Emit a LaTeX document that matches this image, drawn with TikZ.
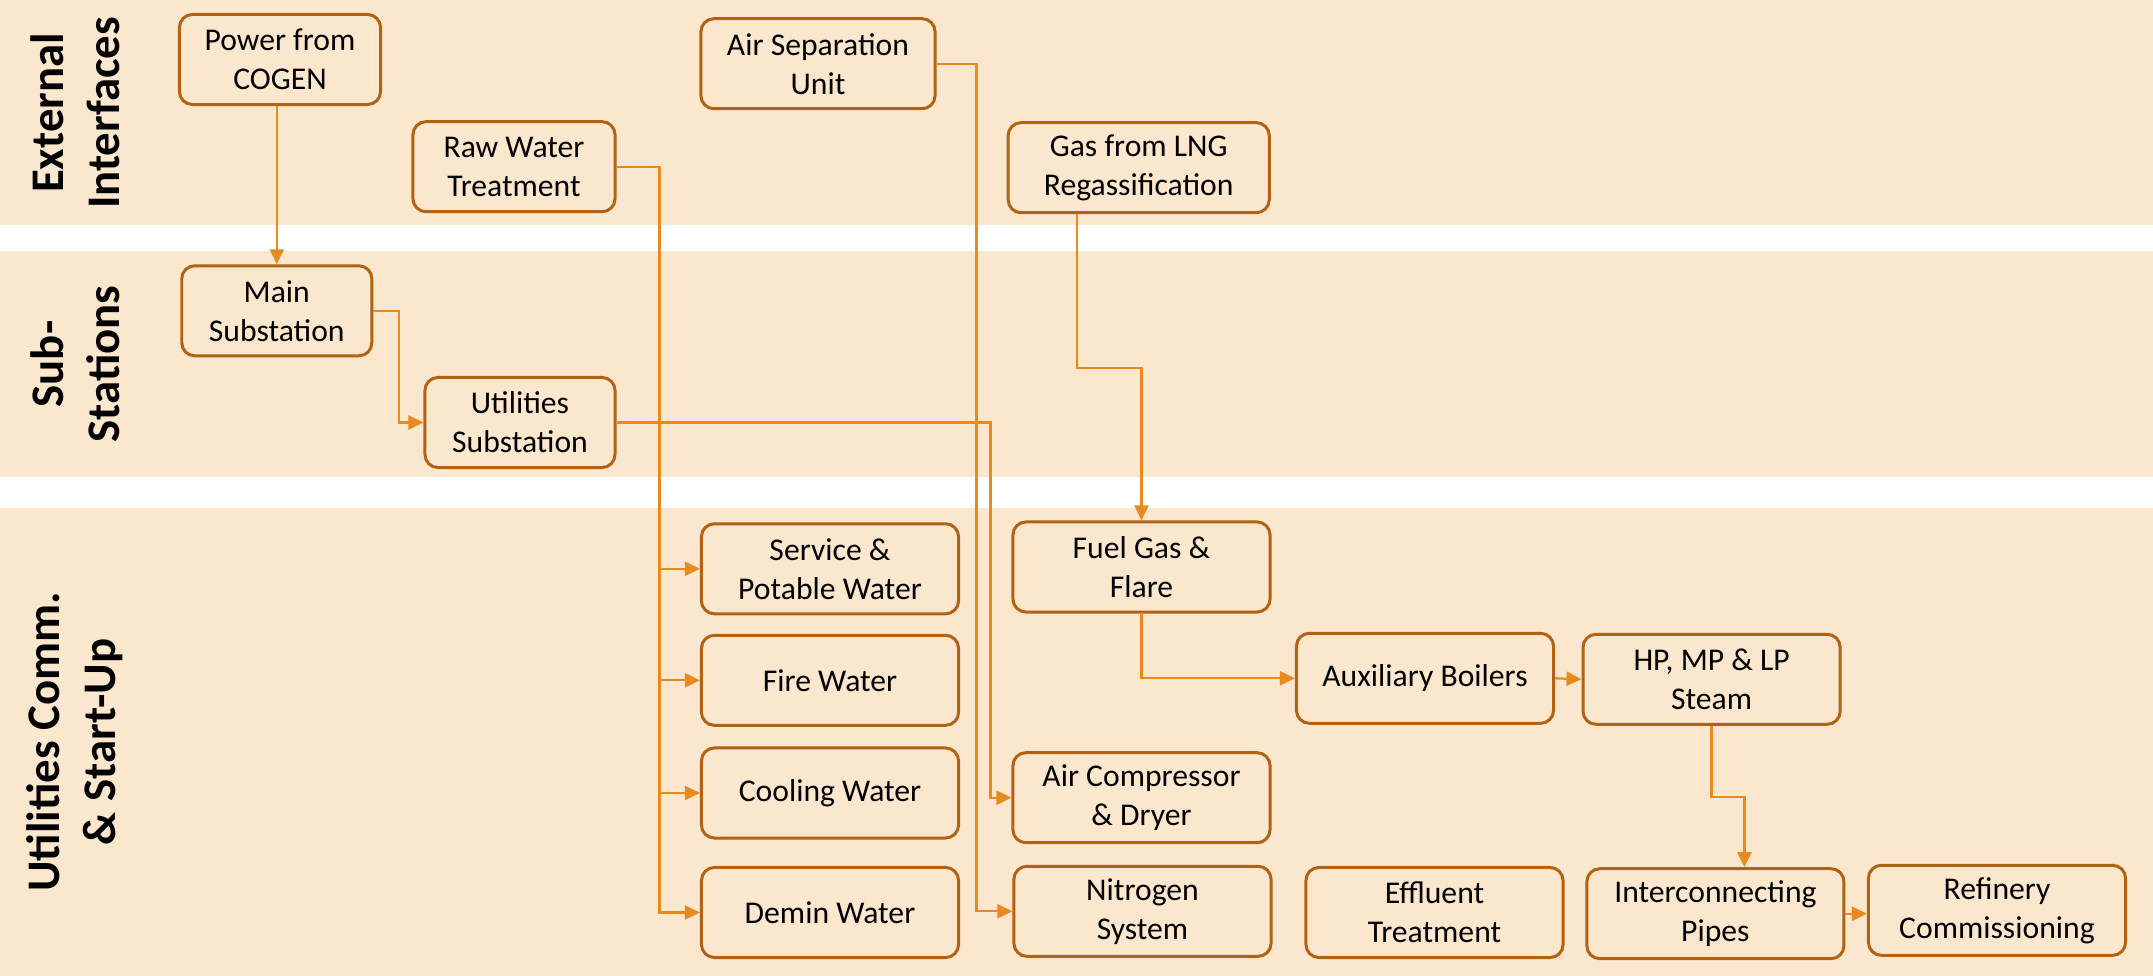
\documentclass[tikz,border=0pt]{standalone}
\usepackage{fontspec}
\setmainfont{Carlito}
\usepackage{xcolor}
\usepackage{tikz}
\usetikzlibrary{arrows.meta, positioning}

\definecolor{bandfill}{RGB}{251,230,206}
\definecolor{boxline}{RGB}{178,98,18}
\definecolor{flowline}{RGB}{233,138,32}

\begin{document}
\begin{tikzpicture}[
      x=0.01cm, y=-0.01cm,
      mybox/.style={
         rectangle,
         rounded corners=0.13cm,
         draw=boxline,
         line width=0.85pt,
         fill=bandfill,
         align=center,
         inner sep=1pt,
         minimum width=2.57cm,
         minimum height=0.9cm,
         font=\fontsize{9}{11.1}\selectfont},
      myline/.style={draw=flowline, line width=0.65pt},
      myarrow/.style={myline, -{Triangle[length=0.15cm, width=0.14cm]}},
      rowlabel/.style={rotate=90, align=center,
         font=\fontsize{13.3}{16}\selectfont\bfseries}
      ]
      \useasboundingbox (0,0) rectangle (2153,976);

      % bands
      \fill[bandfill] (0,0) rectangle (2153,225);
      \fill[bandfill] (0,251) rectangle (2153,477);
      \fill[bandfill] (0,508) rectangle (2153,976);

      \node[rowlabel] at (75, 113) (ext) {External\\Interfaces};
      \node[rowlabel] at (75, 364) (sub) {Sub-\\Stations};
      \node[rowlabel] at (75, 742) (utl) {Utilities Comm.\\\& Start-Up};

      \node[mybox, minimum width=2.01cm]  at (280, 59.5) (pow) {Power from\\COGEN};
      \node[mybox, minimum width=2.02cm]  at (514, 166.7) (raw) {Raw Water\\Treatment};
      \node[mybox, minimum width=2.34cm]  at (818, 63.7) (asu) {Air Separation\\Unit};
      \node[mybox, minimum width=2.61cm]  at (1138.7, 167.7) (lng) {Gas from LNG\\Regassification};
      \node[mybox, minimum width=1.90cm]  at (276.8, 310.8) (main) {Main\\Substation};
      \node[mybox, minimum width=1.90cm]  at (520, 422.5) (util) {Utilities\\Substation};
      \node[mybox]  at (830, 568.8) (serv) {Service \&\\Potable Water};
      \node[mybox]  at (830, 680.3) (fire) {Fire Water};
      \node[mybox]  at (830, 793) (cool) {Cooling Water};
      \node[mybox]  at (830, 912.5) (demin) {Demin Water};
      \node[mybox]  at (1141.5, 567) (fuel) {Fuel Gas \&\\Flare};
      \node[mybox]  at (1141.5, 797.7) (comp) {Air Compressor\\\& Dryer};
      \node[mybox]  at (1142.5, 911.3) (nitro) {Nitrogen\\System};
      \node[mybox]  at (1425, 678.3) (aux) {Auxiliary Boilers};
      \node[mybox]  at (1711.6, 679.3) (steam) {HP, MP \& LP\\Steam};
      \node[mybox]  at (1434.5, 912.5) (eff) {Effluent\\Treatment};
      \node[mybox]  at (1715.4, 913.7) (pipes) {Interconnecting\\Pipes};
      \node[mybox]  at (1997, 910.3) (ref) {Refinery\\Commissioning};

      % feeds
      \draw[myarrow] (main.north |- pow.south) -- (main.north);
      \draw[myarrow] (main.east) -- ++(26,0) |- (util.west);
      \draw[myarrow] (raw.east) -- ++(43,0) coordinate (rw) |- (demin.west);
      \foreach \n in {serv, fire, cool}
         \draw[myarrow] (rw |- \n.west) -- (\n.west);
      \draw[myarrow] (util.east) -- ++(374,0) |- (comp.west);
      \draw[myarrow] (asu.east) -- ++(40,0) |- (nitro.west);
      \draw[myarrow] ([xshift=-0.62cm]lng.south) -- ++(0,154) -| (fuel.north);
      \draw[myarrow] (fuel.south) |- (aux.west);
      \draw[myarrow] (aux.east) -- (steam.west);
      \draw[myarrow] (steam.south) -- ++(0,71) -| ([xshift=0.29cm]pipes.north);
      \draw[myarrow] (pipes.east) -- (pipes.east -| ref.west);

\end{tikzpicture}
\end{document}
